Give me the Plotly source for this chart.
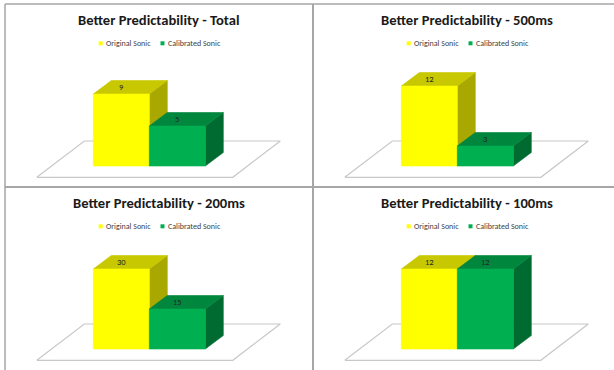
import plotly.graph_objects as go

# ---- data -------------------------------------------------------------
panel_titles = [
    "Better Predictability - Total",
    "Better Predictability - 500ms",
    "Better Predictability - 200ms",
    "Better Predictability - 100ms",
]
series_names = ["Original Sonic", "Calibrated Sonic"]
original_sonic = [9, 12, 30, 12]
calibrated_sonic = [5, 3, 15, 12]
# value that fills the full bar-area height of each panel
axis_max = [10, 12, 30, 12]

# ---- style ------------------------------------------------------------
W, H = 614, 370
FONT = "Carlito, Liberation Sans Narrow, Lato, sans-serif"
front_col = ["#FFFF00", "#00B050"]
top_col = ["#C8C800", "#00863D"]
side_col = ["#A8A800", "#006B30"]
border_col = "#A6A6A6"
floor_col = "#C8C8C8"

# panel frames in pixels: left, top, visible width, height
panels = [(5, 4, 308, 183), (313, 4, 301, 183), (5, 187, 308, 183), (313, 187, 301, 183)]

BAR_PX = 56.0          # width of one bar face
BAR_LEFT_PX = 88.3     # left edge of the first bar inside a panel
BASE_PX = 162.0        # baseline of the bars, from panel top
FULL_PX = 80.0         # pixel height of axis_max
DEPTH_PX = (18.0, 13.5)        # bar depth (x, y)
FLOOR_FRONT_PX = (-14.5, -11.3)
FLOOR_BACK_PX = (33.0, 25.0)
FLOOR_PAD = 0.75               # floor overhang beside the bars, in bar widths

fig = go.Figure()
layout_axes = {}
annotations = []
shapes = []


def poly(xs, ys, color, xa, ya, line=None):
    fig.add_trace(go.Scatter(
        x=xs + [xs[0]], y=ys + [ys[0]], mode="lines", fill="toself",
        fillcolor=color, line=line or dict(width=0.6, color=color),
        hoverinfo="skip", showlegend=False, xaxis=xa, yaxis=ya,
    ))


for k, (L, T, Wv, Hp) in enumerate(panels):
    n = "" if k == 0 else str(k + 1)
    xa, ya = "x" + n, "y" + n
    ppu = FULL_PX / axis_max[k]          # pixels per value unit
    layout_axes["xaxis" + n] = dict(
        domain=[L / W, (L + Wv) / W],
        range=[-BAR_LEFT_PX / BAR_PX, (Wv - BAR_LEFT_PX) / BAR_PX],
        visible=False, fixedrange=True)
    layout_axes["yaxis" + n] = dict(
        domain=[1 - (T + Hp) / H, 1 - T / H],
        range=[-(Hp - BASE_PX) / ppu, BASE_PX / ppu],
        visible=False, fixedrange=True)

    ddx, ddy = DEPTH_PX[0] / BAR_PX, DEPTH_PX[1] / ppu
    ffx, ffy = FLOOR_FRONT_PX[0] / BAR_PX, FLOOR_FRONT_PX[1] / ppu
    fbx, fby = FLOOR_BACK_PX[0] / BAR_PX, FLOOR_BACK_PX[1] / ppu

    # floor
    n_bars = len(series_names)
    fl, fr = -FLOOR_PAD, n_bars + FLOOR_PAD
    poly([fl + ffx, fr + ffx, fr + fbx, fl + fbx], [ffy, ffy, fby, fby],
         "white", xa, ya, line=dict(width=1.2, color=floor_col))

    values = [original_sonic[k], calibrated_sonic[k]]
    for i, v in enumerate(values):
        x0, x1 = i, i + 1
        poly([x1, x1 + ddx, x1 + ddx, x1], [0, ddy, v + ddy, v], side_col[i], xa, ya)
        poly([x0, x1, x1 + ddx, x0 + ddx], [v, v, v + ddy, v + ddy], top_col[i], xa, ya)
        poly([x0, x1, x1, x0], [0, 0, v, v], front_col[i], xa, ya)
        annotations.append(dict(
            x=x0 + 0.5, y=v + ddy * 0.55, xref=xa, yref=ya, text=str(v),
            showarrow=False, font=dict(family=FONT, size=8.5, color="#262626")))

    # title
    annotations.append(dict(
        x=(L + 154) / W, y=1 - (T + 16) / H, xref="paper", yref="paper",
        text="<b>%s</b>" % panel_titles[k], showarrow=False,
        xanchor="center", yanchor="middle",
        font=dict(family=FONT, size=14.6, color="#1a1a1a")))

    # legend keys
    ly = 1 - (T + 39.3) / H
    for i, (sx, tx) in enumerate([(95.7, 98.6), (157.5, 161.0)]):
        shapes.append(dict(
            type="rect", xref="paper", yref="paper",
            x0=(L + sx - 2) / W, x1=(L + sx + 2) / W,
            y0=ly - 2 / H, y1=ly + 2 / H,
            fillcolor=front_col[i], line=dict(width=0)))
        annotations.append(dict(
            x=(L + tx) / W, y=ly, xref="paper", yref="paper",
            text=series_names[i], showarrow=False,
            xanchor="left", yanchor="middle",
            font=dict(family=FONT, size=8, color="#404040")))

# panel borders
for x0, y0, x1, y1, w in [(5, 4, 614, 4, 1.5), (5, 4, 5, 370, 1.5),
                          (313, 4, 313, 370, 2), (5, 187, 614, 187, 2)]:
    shapes.append(dict(type="line", xref="paper", yref="paper",
                       x0=x0 / W, x1=x1 / W, y0=1 - y0 / H, y1=1 - y1 / H,
                       line=dict(color=border_col, width=w)))

fig.update_layout(
    width=W, height=H, margin=dict(l=0, r=0, t=0, b=0),
    paper_bgcolor="white", plot_bgcolor="rgba(0,0,0,0)",
    showlegend=False, annotations=annotations, shapes=shapes,
    **layout_axes,
)

fig.write_html("out.html", config={"displayModeBar": False})
